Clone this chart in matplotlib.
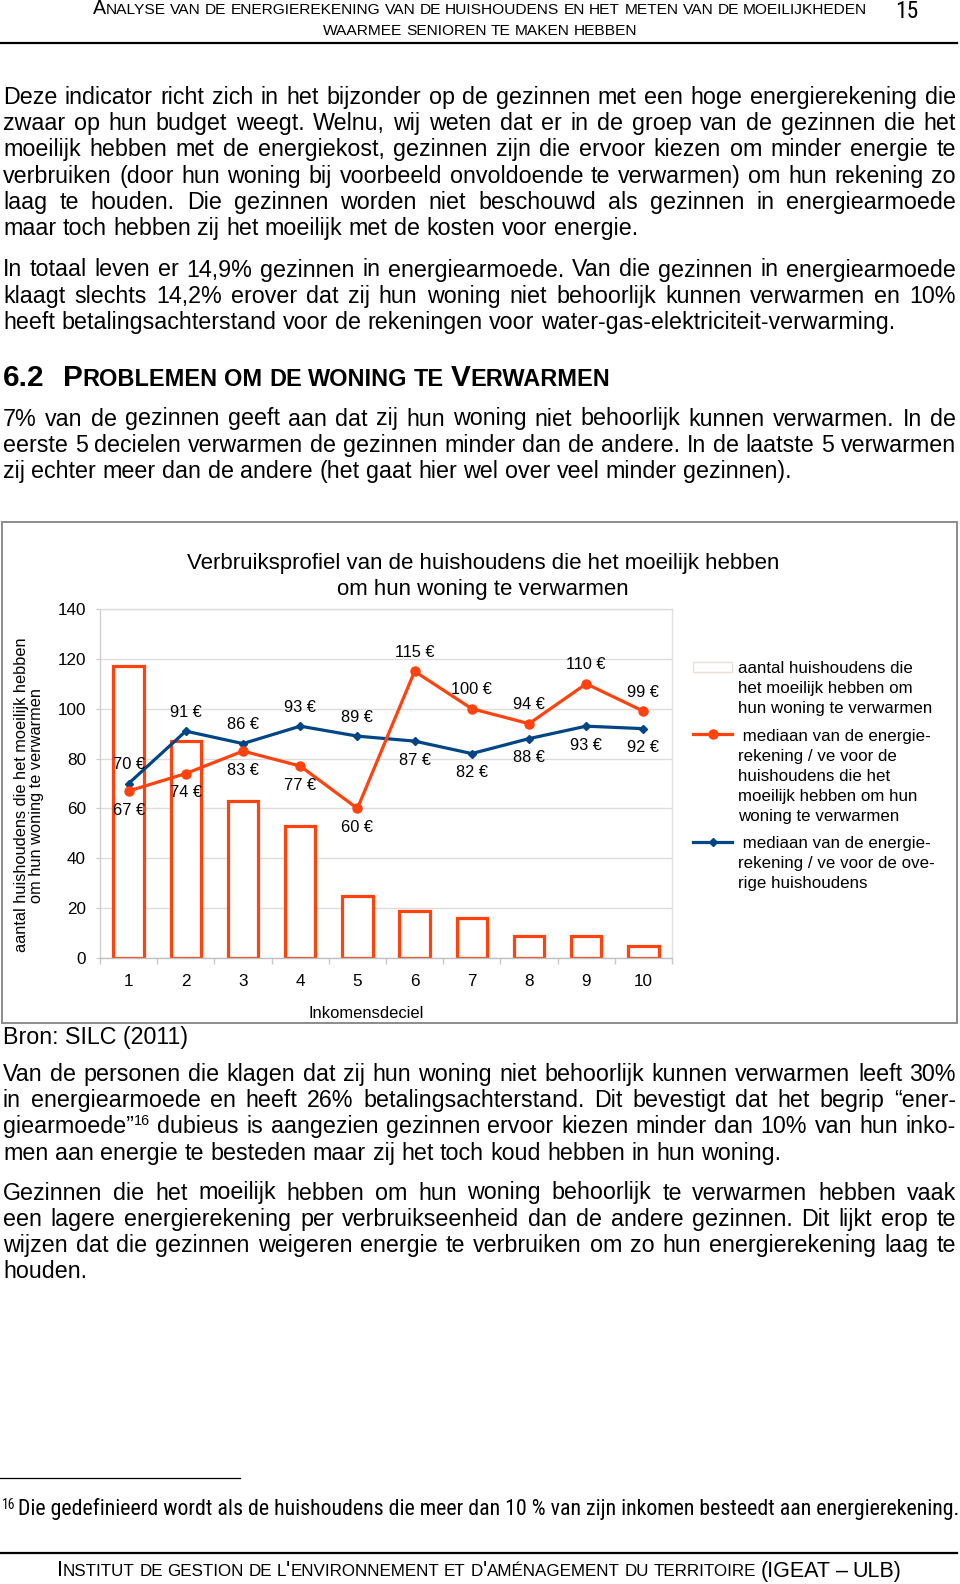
import os
import numpy as np
import matplotlib
matplotlib.use("Agg")
import matplotlib.pyplot as plt
from matplotlib import font_manager
from matplotlib.font_manager import FontProperties
from matplotlib.patches import Rectangle
from matplotlib.lines import Line2D

# ---------------- chart data ----------------
deciles = ["1", "2", "3", "4", "5", "6", "7", "8", "9", "10"]
households_difficult = [117, 87, 63, 53, 25, 19, 16, 9, 9, 5]
median_bill_difficult = [67, 74, 83, 77, 60, 115, 100, 94, 110, 99]
median_bill_other = [70, 91, 86, 93, 89, 87, 82, 88, 93, 92]
label_side_difficult = [-1, -1, -1, -1, -1, 1, 1, 1, 1, 1]
label_side_other = [1, 1, 1, 1, 1, -1, -1, -1, -1, -1]
y_ticks = [0, 20, 40, 60, 80, 100, 120, 140]

chart_title = ["Verbruiksprofiel van de huishoudens die het moeilijk hebben",
               "om hun woning te verwarmen"]
y_label = "aantal huishoudens die het moeilijk hebben\nom hun woning te verwarmen"
x_label = "Inkomensdeciel"
legend_labels = [
    ["aantal huishoudens die", "het moeilijk hebben om", "hun woning te verwarmen"],
    [" mediaan van de energie-", "rekening / ve voor de", "huishoudens die het",
     "moeilijk hebben om hun", "woning te verwarmen"],
    [" mediaan van de energie-", "rekening / ve voor de ove-", "rige huishoudens"],
]

# ---------------- page text ----------------
header_line1 = "Analyse van de energierekening van de huishoudens en het meten van de moeilijkheden"
header_line2 = "waarmee senioren te maken hebben"
page_number = "15"
para1 = [
    "Deze indicator richt zich in het bijzonder op de gezinnen met een hoge energierekening die",
    "zwaar op hun budget weegt. Welnu, wij weten dat er in de groep van de gezinnen die het",
    "moeilijk hebben met de energiekost, gezinnen zijn die ervoor kiezen om minder energie te",
    "verbruiken (door hun woning bij voorbeeld onvoldoende te verwarmen) om hun rekening zo",
    "laag te houden. Die gezinnen worden niet beschouwd als gezinnen in energiearmoede",
    "maar toch hebben zij het moeilijk met de kosten voor energie.",
]
para2 = [
    "In totaal leven er 14,9% gezinnen in energiearmoede. Van die gezinnen in energiearmoede",
    "klaagt slechts 14,2% erover dat zij hun woning niet behoorlijk kunnen verwarmen en 10%",
    "heeft betalingsachterstand voor de rekeningen voor water-gas-elektriciteit-verwarming.",
]
heading_num = "6.2"
heading_text = "Problemen om de woning te Verwarmen"
para3 = [
    "7% van de gezinnen geeft aan dat zij hun woning niet behoorlijk kunnen verwarmen. In de",
    "eerste 5 decielen verwarmen de gezinnen minder dan de andere. In de laatste 5 verwarmen",
    "zij echter meer dan de andere (het gaat hier wel over veel minder gezinnen).",
]
source_text = "Bron: SILC (2011)"
para4 = [
    "Van de personen die klagen dat zij hun woning niet behoorlijk kunnen verwarmen leeft 30%",
    "in energiearmoede en heeft 26% betalingsachterstand. Dit bevestigt dat het begrip \u201cener-",
    "giearmoede\u201d^16 dubieus is aangezien gezinnen ervoor kiezen minder dan 10% van hun inko-",
    "men aan energie te besteden maar zij het toch koud hebben in hun woning.",
]
para5 = [
    "Gezinnen die het moeilijk hebben om hun woning behoorlijk te verwarmen hebben vaak",
    "een lagere energierekening per verbruikseenheid dan de andere gezinnen. Dit lijkt erop te",
    "wijzen dat die gezinnen weigeren energie te verbruiken om zo hun energierekening laag te",
    "houden.",
]
footnote_mark = "16"
footnote_text = "Die gedefinieerd wordt als de huishoudens die meer dan 10 % van zijn inkomen besteedt aan energierekening."
footer_text = "Institut de gestion de l'environnement et d'am\u00e9nagement du territoire (IGEAT \u2013 ULB)"

# ---------------- setup ----------------
W, H, DPI = 960, 1584, 100
names = {f.name for f in font_manager.fontManager.ttflist}
BODY = "Liberation Sans" if "Liberation Sans" in names else "DejaVu Sans"


def find_narrow():
    prefs = ["liberationsansnarrow", "arialn", "arimo", "notosans", "roboto", "opensans", "dejavusans"]
    bad = ["bold", "italic", "oblique", "light", "thin", "medium", "black", "extra", "semi", "mono", "display", "cjk"]
    found = {}
    for f in font_manager.fontManager.ttflist:
        base = os.path.basename(f.fname).lower().replace("-", "").replace("_", "")
        if ("narrow" in base or "condensed" in base) and not any(k in base for k in bad):
            for i, p in enumerate(prefs):
                if base.startswith(p):
                    found.setdefault(i, f.fname)
    if found:
        return found[min(found)]
    return None


NARROW = find_narrow() or BODY
ORANGE = "#ff420e"
BLUE = "#004586"

fig = plt.figure(figsize=(W / DPI, H / DPI), dpi=DPI)
fig.patch.set_facecolor("white")
renderer = fig.canvas.get_renderer()


def fxy(x, y):
    return x / W, 1 - y / H


def fkw(font, weight):
    if os.sep in font:
        return {"fontproperties": FontProperties(fname=font)}
    return {"family": font, "weight": weight}


_cache = {}


def tw(s, size, font=BODY, weight="normal"):
    key = (s, round(size, 3), font, weight)
    if key not in _cache:
        t = fig.text(0, 0, s, fontsize=size, **fkw(font, weight))
        _cache[key] = t.get_window_extent(renderer=renderer).width
        t.remove()
    return _cache[key]


def space_w(size, font=BODY, weight="normal"):
    return tw("n n", size, font, weight) - tw("nn", size, font, weight)


def put(x, yb, s, size, font=BODY, weight="normal", color="black", ha="left", va="baseline", **kw):
    X, Y = fxy(x, yb)
    fig.text(X, Y, s, fontsize=size, color=color, ha=ha, va=va, **fkw(font, weight), **kw)


def word_runs(word, size):
    if "^" in word:
        main, sup = word.split("^")
        return [(main, size, 0.0), (sup, size * 0.62, size * DPI / 72 * 0.38)]
    return [(word, size, 0.0)]


def runs_width(runs, font, weight):
    return sum(tw(t, s, font, weight) for t, s, dy in runs)


def draw_words(words, x0, yb, font, weight, gap, color="black"):
    x = x0
    for runs in words:
        xx = x
        for t, s, dy in runs:
            put(xx, yb - dy, t, s, font, weight, color)
            xx += tw(t, s, font, weight)
        x += runs_width(runs, font, weight) + gap
    return x - gap


def paragraph(lines, x0, x1, yb0, ls, size):
    for i, line in enumerate(lines):
        words = [word_runs(w, size) for w in line.split(" ")]
        widths = sum(runs_width(r, BODY, "normal") for r in words)
        last = i == len(lines) - 1
        if not last and len(words) > 1:
            gap = (x1 - x0 - widths) / (len(words) - 1)
        else:
            gap = space_w(size)
        draw_words(words, x0, yb0 + i * ls, BODY, "normal", gap)


SC = 0.79


def smallcaps_words(text, big):
    out = []
    for w in text.split(" "):
        runs = []
        cur, cls = "", None
        for ch in w:
            c = "s" if ch.islower() else "b"
            if c != cls and cur:
                runs.append((cur.upper(), big * SC if cls == "s" else big, 0.0))
                cur = ""
            cls = c
            cur += ch
        if cur:
            runs.append((cur.upper(), big * SC if cls == "s" else big, 0.0))
        out.append(runs)
    return out


def sc_width(text, big, font, weight):
    words = smallcaps_words(text, big)
    return sum(runs_width(r, font, weight) for r in words) + space_w(big * SC, font, weight) * (len(words) - 1)


def fit_sc(text, target, font, weight):
    return 10.0 * target / sc_width(text, 10.0, font, weight)


def draw_sc(text, big, x0, yb, font, weight, color="black"):
    words = smallcaps_words(text, big)
    draw_words(words, x0, yb, font, weight, space_w(big * SC, font, weight), color)


# ---------------- header ----------------
hbig = fit_sc(header_line1, 774, BODY, "normal")
w1 = sc_width(header_line1, hbig, BODY, "normal")
draw_sc(header_line1, hbig, 480 - w1 / 2, 14.5, BODY, "normal")
w2 = sc_width(header_line2, hbig, BODY, "normal")
draw_sc(header_line2, hbig, 480 - w2 / 2, 35, BODY, "normal")
put(907, 18.5, page_number, 17, NARROW, ha="center")
fig.add_artist(Line2D([0, 957 / W], [1 - 42.5 / H] * 2, transform=fig.transFigure,
                      color="black", lw=1.6))

# ---------------- body text ----------------
bs1 = 10.0 * 636 / tw(para1[-1], 10.0)
bs2 = 10.0 * 791 / tw(para3[-1], 10.0)
BS = (bs1 + bs2) / 2
LS = 26.2
paragraph(para1, 3, 956, 104, LS, BS)
paragraph(para2, 3, 956, 276.5, LS, BS)

# heading
hb = fit_sc(heading_text, 548, BODY, "bold")
put(3, 386, heading_num, hb, BODY, "bold")
draw_sc(heading_text, hb, 63, 386, BODY, "bold")

paragraph(para3, 3, 956, 425.5, LS, BS)
put(3, 1044, source_text, BS)
paragraph(para4, 3, 956, 1081, LS, BS)
paragraph(para5, 3, 956, 1199.5, LS, BS)

# footnote
fig.add_artist(Line2D([0, 240 / W], [1 - 1477.5 / H] * 2, transform=fig.transFigure,
                      color="black", lw=0.9))
fs = 10.0 * 937 / tw(footnote_text, 10.0, NARROW)
put(2, 1509, footnote_mark, fs * 0.62, NARROW)
put(18, 1515.5, footnote_text, fs, NARROW)

# footer
fig.add_artist(Line2D([0, 957 / W], [1 - 1553 / H] * 2, transform=fig.transFigure,
                      color="black", lw=1.6))
fb = fit_sc(footer_text, 846, BODY, "normal")
wf = sc_width(footer_text, fb, BODY, "normal")
draw_sc(footer_text, fb, 479 - wf / 2, 1576.5, BODY, "normal")

# ---------------- chart ----------------
fig.add_artist(Rectangle(fxy(1.5, 1022.5), 955.5 / W, 500.5 / H, transform=fig.transFigure,
                         fill=False, edgecolor="#8c8c8c", lw=1.4))

l, b = fxy(100, 958)
r, t = fxy(672, 609)
ax = fig.add_axes([l, b, r - l, t - b])
x = np.arange(len(deciles))
ax.bar(x, households_difficult, width=0.53, facecolor="white", edgecolor=ORANGE,
       linewidth=2.3, zorder=2)
ax.plot(x, median_bill_other, color=BLUE, lw=2.3, marker="D", ms=4.2, zorder=3)
ax.plot(x, median_bill_difficult, color=ORANGE, lw=2.3, marker="o", ms=6.5, zorder=4)
for xi, v, sd in zip(x, median_bill_difficult, label_side_difficult):
    ax.annotate(f"{v} \u20ac", (xi, v), xytext=(0, 13.7 * sd), textcoords="offset points",
                ha="center", va="center", fontsize=11.8, family=BODY, zorder=6)
for xi, v, sd in zip(x, median_bill_other, label_side_other):
    ax.annotate(f"{v} \u20ac", (xi, v), xytext=(0, 13.7 * sd), textcoords="offset points",
                ha="center", va="center", fontsize=11.8, family=BODY, zorder=6)

ax.set_xlim(-0.5, len(deciles) - 0.5)
ax.set_ylim(0, 140)
ax.set_yticks(y_ticks)
ax.set_yticklabels([str(v) for v in y_ticks], family=BODY, fontsize=12.3)
ax.set_xticks(x)
ax.set_xticklabels(deciles, family=BODY, fontsize=12.3)
ax.set_xticks(np.arange(-0.5, len(deciles)), minor=True)
ax.tick_params(axis="x", which="major", length=0, pad=11.5)
ax.tick_params(axis="x", which="minor", length=4, color="#c8c8c8", width=1)
ax.tick_params(axis="y", length=3, color="#c8c8c8", pad=7)
ax.grid(axis="y", color="#dcdcdc", lw=1, zorder=0)
ax.set_axisbelow(True)
for side, c in [("left", "#cfcfcf"), ("bottom", "#c0c0c0"), ("right", "#e0e0e0"), ("top", "#dcdcdc")]:
    ax.spines[side].set_color(c)
    ax.spines[side].set_linewidth(1)

# title and axis labels
put(483, 563, chart_title[0], 16, va="center", ha="center")
put(483, 589, chart_title[1], 16, va="center", ha="center")
fig.text(29 / W, 1 - 795 / H, y_label, rotation=90, ha="center", va="center",
         multialignment="center", fontsize=11.8, family=BODY, linespacing=1.05)
put(366, 1013, x_label, 11.9, va="center", ha="center")

# legend
fig.add_artist(Rectangle(fxy(693, 672), 39 / W, 10 / H, transform=fig.transFigure,
                         facecolor="white", edgecolor="#eadfd6", lw=1))
fig.add_artist(Line2D([693 / W, 732 / W], [1 - 734 / H] * 2, transform=fig.transFigure,
                      color=ORANGE, lw=2.3))
fig.add_artist(Line2D([712.5 / W], [1 - 734 / H], transform=fig.transFigure,
                      color=ORANGE, marker="o", ms=6.5, lw=0))
fig.add_artist(Line2D([693 / W, 732 / W], [1 - 842 / H] * 2, transform=fig.transFigure,
                      color=BLUE, lw=2.3))
fig.add_artist(Line2D([712.5 / W], [1 - 842 / H], transform=fig.transFigure,
                      color=BLUE, marker="D", ms=4.2, lw=0))
leg_y0 = [668.5, 737, 843.5]
for lines, y0 in zip(legend_labels, leg_y0):
    for i, s in enumerate(lines):
        put(738, y0 + i * 19.8, s, 12.2, va="center")

fig.savefig("out.png", dpi=DPI, facecolor="white")
